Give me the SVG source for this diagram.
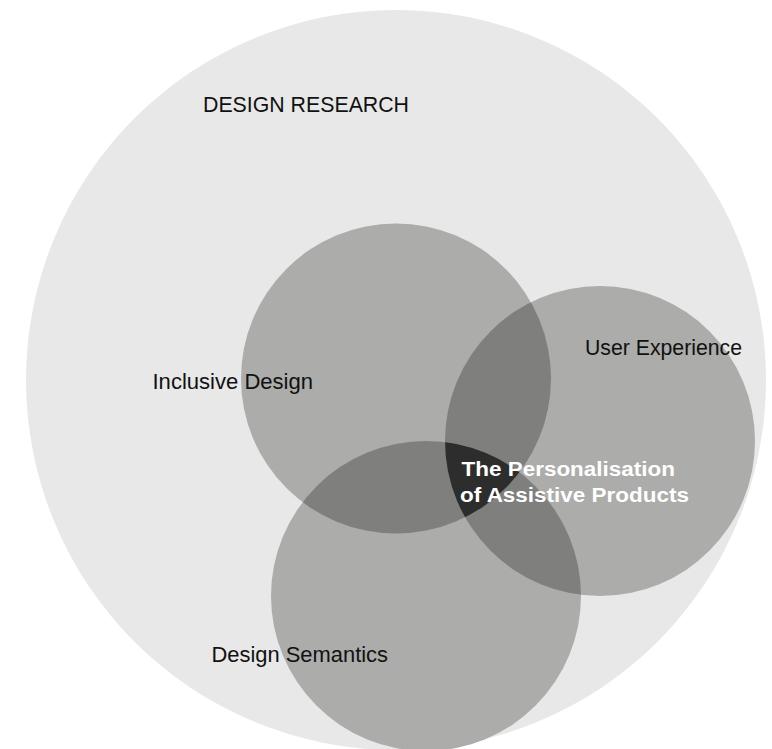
<svg xmlns="http://www.w3.org/2000/svg" width="772" height="749" viewBox="0 0 772 749">
  <style>
    .lbl { font-family: "Liberation Sans", Arial, sans-serif; font-size: 21.5px; fill: #111111; }
    .core { font-family: "Liberation Sans", Arial, sans-serif; font-size: 20px; font-weight: bold; fill: #ffffff; }
    .outer { fill: #e8e8e8; }
    .one { fill: #acacab; }
    .two { fill: #7f7f7e; }
    .three { fill: #2e2d2d; }
  </style>
  <defs>
    <clipPath id="cA"><circle cx="396" cy="378.5" r="155"/></clipPath>
    <clipPath id="cB"><circle cx="600" cy="441" r="155"/></clipPath>
    <clipPath id="cC"><circle cx="426" cy="596" r="155"/></clipPath>
  </defs>
  <rect x="0" y="0" width="772" height="749" fill="#ffffff"/>

  <g id="design-research">
    <circle class="outer" cx="396" cy="380" r="370"/>
    <text class="lbl" x="203" y="112" textLength="206" lengthAdjust="spacingAndGlyphs">DESIGN RESEARCH</text>
  </g>

  <g id="inclusive-design">
    <circle class="one" cx="396" cy="378.5" r="155"/>
  </g>
  <g id="user-experience">
    <circle class="one" cx="600" cy="441" r="155"/>
  </g>
  <g id="design-semantics">
    <circle class="one" cx="426" cy="596" r="155"/>
  </g>

  <g id="overlaps">
    <circle class="two" cx="600" cy="441" r="155" clip-path="url(#cA)"/>
    <circle class="two" cx="426" cy="596" r="155" clip-path="url(#cA)"/>
    <circle class="two" cx="426" cy="596" r="155" clip-path="url(#cB)"/>
    <g clip-path="url(#cA)">
      <circle class="three" cx="426" cy="596" r="155" clip-path="url(#cB)"/>
    </g>
  </g>

  <g id="labels">
    <text class="lbl" x="152.5" y="389" textLength="160.5" lengthAdjust="spacingAndGlyphs">Inclusive Design</text>
    <text class="lbl" x="585" y="354.5" textLength="157" lengthAdjust="spacingAndGlyphs">User Experience</text>
    <text class="lbl" x="211.5" y="661.5" textLength="176.5" lengthAdjust="spacingAndGlyphs">Design Semantics</text>
  </g>

  <g id="personalisation">
    <text class="core" x="461.5" y="475.5" textLength="213.5" lengthAdjust="spacingAndGlyphs">The Personalisation</text>
    <text class="core" x="460" y="501.5" textLength="229" lengthAdjust="spacingAndGlyphs">of Assistive Products</text>
  </g>

  <g id="connectors"/>
</svg>
